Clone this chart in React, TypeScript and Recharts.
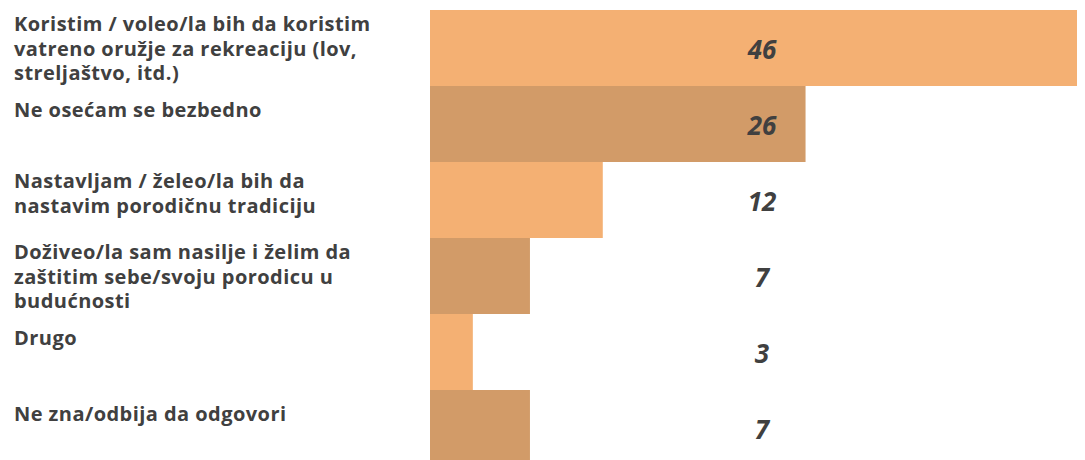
import React from 'react';
import { BarChart, Bar, XAxis, YAxis, Cell, LabelList } from 'recharts';

// Categories (each label already split into its lines) and values
const categories = [
  ['Koristim / voleo/la bih da koristim', 'vatreno oružje za rekreaciju (lov,', 'streljaštvo, itd.)'],
  ['Ne osećam se bezbedno'],
  ['Nastavljam / želeo/la bih da', 'nastavim porodičnu tradiciju'],
  ['Doživeo/la sam nasilje i želim da', 'zaštitim sebe/svoju porodicu u', 'budućnosti'],
  ['Drugo'],
  ['Ne zna/odbija da odgovori'],
];
const values = [46, 26.3, 12.1, 7, 3, 7];
const colors = ['#F4B073', '#D29B68'];

const CHART_W = 1086;
const CHART_H = 458;
const AXIS_W = 422;
const PLOT_W = CHART_W - AXIS_W;

const data = categories.map((lines, i) => ({ name: lines.join('\n'), value: values[i] }));

const LeftTick = (props: any) => {
  const { y, payload } = props;
  const lines: string[] = String(payload.value).split('\n');
  const firstY = y - 15 - (lines.length - 1) * 5;
  return (
    <text
      x={6}
      y={firstY}
      textAnchor="start"
      dominantBaseline="central"
      fill="#404040"
      fontFamily="'Open Sans', sans-serif"
      fontWeight={700}
      fontSize={20}
      letterSpacing={0.45}
    >
      {lines.map((l, i) => (
        <tspan key={i} x={6} y={firstY + i * 24.5}>
          {l}
        </tspan>
      ))}
    </text>
  );
};

const ValueLabel = (props: any) => {
  const { y, height, value } = props;
  return (
    <text
      x={AXIS_W + PLOT_W / 2}
      y={y + height / 2 + 1}
      textAnchor="middle"
      dominantBaseline="central"
      fill="#404040"
      fontFamily="'Open Sans', sans-serif"
      fontStyle="italic"
      fontWeight={700}
      fontSize={26}
    >
      {Math.round(value)}
    </text>
  );
};

export default function App() {
  return (
    <div style={{ width: 1077, height: 452, overflow: 'hidden' }}>
      <BarChart
        width={CHART_W}
        height={CHART_H}
        data={data}
        layout="vertical"
        margin={{ top: 2, right: 0, bottom: 0, left: 0 }}
        barCategoryGap={0}
      >
        <XAxis type="number" hide domain={[0, 46.5]} />
        <YAxis
          type="category"
          dataKey="name"
          width={AXIS_W}
          axisLine={false}
          tickLine={false}
          interval={0}
          tick={<LeftTick />}
        />
        <Bar dataKey="value" isAnimationActive={false}>
          {data.map((d, i) => (
            <Cell key={i} fill={colors[i % 2]} />
          ))}
          <LabelList dataKey="value" content={<ValueLabel />} />
        </Bar>
      </BarChart>
    </div>
  );
}
